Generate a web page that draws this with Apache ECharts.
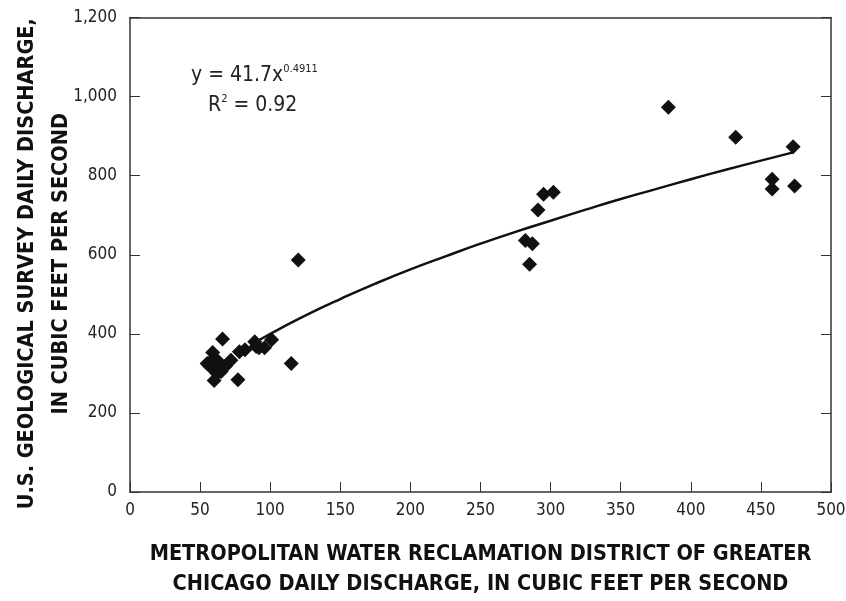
<!DOCTYPE html>
<html>
<head>
<meta charset="utf-8">
<script src="https://cdn.jsdelivr.net/npm/echarts@6/dist/echarts.min.js"></script>
<style>
html,body{margin:0;padding:0;background:#fff;}
#chart{width:846px;height:601px;}
</style>
</head>
<body>
<div id="chart"></div>
<script>
// Observations: MWRD discharge (x) vs USGS discharge (y)
var mwrdDischarge = [55, 57, 59, 60, 61, 62, 60, 63, 64, 65, 66, 68, 72, 77, 78, 82, 89, 90, 92, 96, 101, 115, 120,
  282, 287, 285, 291, 295, 302,
  384, 432, 458, 458, 473, 474];
var usgsDischarge = [325, 318, 353, 338, 310, 300, 282, 330, 315, 305, 387, 318, 333, 284, 355, 360, 380, 368, 365, 365, 385, 325, 587,
  636, 628, 576, 713, 753, 758,
  973, 897, 791, 766, 873, 774];
// Power trend line
var trendX = [90, 110, 130, 150, 175, 200, 225, 250, 275, 300, 325, 350, 375, 400, 425, 450, 473];
var trendY = [380, 419, 455, 488, 527, 563, 596, 628, 658, 686, 714, 741, 766, 791, 815, 838, 859];
var xTicks = [0, 50, 100, 150, 200, 250, 300, 350, 400, 450, 500];
var yTicks = [0, 200, 400, 600, 800, 1000, 1200];

var FONT = '"Liberation Sans Narrow", "DejaVu Sans Condensed", "Roboto Condensed", "Liberation Sans", sans-serif';
var points = mwrdDischarge.map(function (x, i) { return [x, usgsDischarge[i]]; });
var trend = trendX.map(function (x, i) { return [x, trendY[i]]; });
var AX = '#333';

var chart = echarts.init(document.getElementById('chart'), null, {renderer: 'canvas'});
chart.setOption({
  backgroundColor: '#fff',
  animation: false,
  grid: {left: 130, right: 15, top: 17.5, bottom: 109, containLabel: false, outerBoundsMode: 'none'},
  xAxis: [{
    type: 'value', min: xTicks[0], max: xTicks[xTicks.length - 1], interval: 50,
    axisLine: {show: true, lineStyle: {color: AX, width: 1.5}},
    axisTick: {show: true, inside: true, length: 10, lineStyle: {color: AX, width: 1}},
    axisLabel: {color: '#222', fontFamily: FONT, fontSize: 17, margin: 10},
    splitLine: {show: false},
    name: 'METROPOLITAN WATER RECLAMATION DISTRICT OF GREATER\nCHICAGO DAILY DISCHARGE, IN CUBIC FEET PER SECOND',
    nameLocation: 'middle', nameGap: 47, nameMoveOverlap: false,
    nameTextStyle: {color: '#111', fontFamily: FONT, fontWeight: 'bold', fontSize: 21.5, lineHeight: 30}
  }, {
    type: 'value', position: 'top', min: 0, max: 500, interval: 50,
    axisLine: {show: true, onZero: false, lineStyle: {color: AX, width: 1.5}},
    axisTick: {show: false}, axisLabel: {show: false}, splitLine: {show: false}
  }],
  yAxis: [{
    type: 'value', min: yTicks[0], max: yTicks[yTicks.length - 1], interval: 200,
    axisLine: {show: true, lineStyle: {color: AX, width: 1.5}},
    axisTick: {show: true, inside: true, length: 10, lineStyle: {color: AX, width: 1}},
    axisLabel: {color: '#222', fontFamily: FONT, fontSize: 17, margin: 13,
      formatter: function (v) { return v.toLocaleString('en-US'); }},
    splitLine: {show: false},
    name: 'U.S. GEOLOGICAL SURVEY DAILY DISCHARGE,\nIN CUBIC FEET PER SECOND',
    nameLocation: 'middle', nameGap: 52, nameMoveOverlap: false,
    nameTextStyle: {color: '#111', fontFamily: FONT, fontWeight: 'bold', fontSize: 21.5, lineHeight: 34, padding: [0, 18, 0, 0]}
  }, {
    type: 'value', position: 'right', min: 0, max: 1200, interval: 200,
    axisLine: {show: true, onZero: false, lineStyle: {color: AX, width: 1.5}},
    axisTick: {show: true, inside: true, length: 10, lineStyle: {color: AX, width: 1}},
    axisLabel: {show: false}, splitLine: {show: false}
  }],
  series: [{
    type: 'scatter', data: points, symbol: 'diamond', symbolSize: 15,
    itemStyle: {color: '#111', opacity: 1}, z: 3
  }, {
    type: 'line', data: trend, smooth: true, showSymbol: false, symbol: 'none',
    lineStyle: {color: '#111', width: 2.5}, z: 4
  }],
  graphic: [{
    type: 'text', left: 191, top: 64,
    style: {
      rich: {n: {fontFamily: FONT, fontSize: 21, fill: '#222'}, s: {fontFamily: FONT, fontSize: 11, fill: '#222', verticalAlign: 'top', padding: [0, 0, 12, 0]}},
      text: '{n|y = 41.7x}{s|0.4911}'
    }
  }, {
    type: 'text', left: 208, top: 94,
    style: {
      rich: {n: {fontFamily: FONT, fontSize: 21, fill: '#222'}, s: {fontFamily: FONT, fontSize: 11, fill: '#222', padding: [0, 0, 12, 0]}},
      text: '{n|R}{s|2}{n| = 0.92}'
    }
  }]
});
</script>
</body>
</html>
